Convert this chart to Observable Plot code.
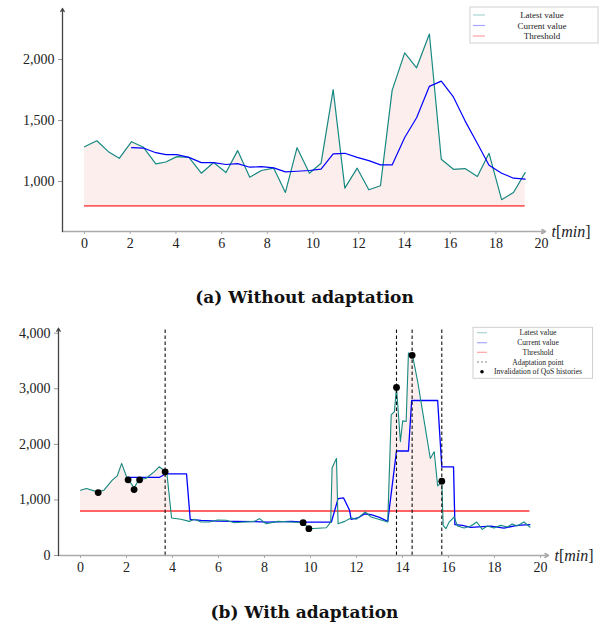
<!DOCTYPE html>
<html><head><meta charset="utf-8">
<script src="https://cdn.jsdelivr.net/npm/d3@7"></script>
<script src="https://cdn.jsdelivr.net/npm/@observablehq/plot@0.6"></script>
<style>
body{margin:0;background:#fff;}
#wrap{position:relative;width:603px;height:632px;background:#fff;}
#wrap svg{position:absolute;left:0;}
.cap{position:absolute;left:3px;width:603px;text-align:center;font-family:"DejaVu Serif",serif;font-weight:bold;font-size:17px;color:#111;line-height:20px;}
</style></head><body><div id="wrap"></div><script>
// ---------- data ----------
const threshold = 800;
const xTicks = [0, 2, 4, 6, 8, 10, 12, 14, 16, 18, 20];
const yTicksA = [1000, 1500, 2000];
const yTicksB = [0, 1000, 2000, 3000, 4000];
const axisLabel = "t[min]";
const legendA = ["Latest value", "Current value", "Threshold"];
const legendB = ["Latest value", "Current value", "Threshold", "Adaptation point", "Invalidation of QoS histories"];
const captionA = "(a) Without adaptation";
const captionB = "(b) With adaptation";

// (a) without adaptation
const timeA = [0,0.54,1.08,1.52,2.06,2.58,3.12,3.56,4.04,4.57,5.11,5.65,6.19,6.70,7.23,7.74,8.28,8.79,9.30,9.84,10.35,10.88,11.39,11.93,12.44,12.95,13.46,14.01,14.53,15.09,15.61,16.14,16.65,17.19,17.70,18.25,18.77,19.28];
const latestA = [1285,1334,1239,1190,1326,1280,1144,1160,1204,1198,1068,1155,1073,1253,1035,1090,1109,910,1277,1068,1149,1753,946,1109,932,965,1747,2054,1932,2209,1182,1100,1106,1041,1231,851,910,1073];
const currentTimeA = timeA.slice(4);
const currentA = [1277,1274,1236,1220,1220,1198,1155,1155,1139,1147,1117,1122,1111,1079,1084,1090,1101,1226,1231,1198,1171,1136,1136,1361,1522,1780,1823,1693,1497,1312,1133,1068,1027,1019];

// (b) with adaptation
const timeB = [0,0.26,0.73,1.02,1.38,1.6,1.79,2.0,2.33,2.55,2.84,3.2,3.42,3.64,3.75,3.96,4.36,4.73,4.95,5.24,5.6,5.96,6.33,6.69,7.13,7.56,7.78,8.07,8.58,9.16,9.68,9.93,10.69,10.88,10.94,11.13,11.2,11.49,11.7,11.8,11.99,12.2,12.38,12.64,12.96,13.36,13.51,13.65,13.74,13.91,14.01,14.16,14.26,14.43,14.66,15.21,15.38,15.53,15.64,15.71,15.77,15.89,16.03,16.25,16.39,16.68,16.97,17.23,17.47,17.69,17.98,18.27,18.56,18.77,18.99,19.28,19.54];
const latestB = [1175,1205,1145,1175,1355,1434,1657,1416,1217,1373,1386,1506,1596,1530,1506,675,651,614,651,602,602,639,633,590,602,614,663,572,614,602,590,482,500,602,1578,1747,572,614,663,675,651,723,783,693,651,602,2530,2590,3024,2048,2422,2410,3645,3614,3133,1747,1867,1253,1295,1337,542,482,602,693,530,494,530,602,470,530,494,542,512,566,530,602,512];
const currentTimeB = [2.04,3.42,3.71,4.61,4.77,5.24,5.96,6.69,7.56,8.15,9.18,9.68,10.91,11.2,11.44,11.7,11.77,12.06,12.35,12.64,13.0,13.36,13.74,14.26,14.4,15.53,15.71,16.22,16.28,16.61,16.97,17.84,18.41,18.99,19.54];
const currentB = [1404,1404,1470,1470,651,633,620,614,608,602,614,602,602,1024,1036,813,651,675,747,735,687,614,1880,1880,2789,2789,1596,1596,554,542,506,530,494,542,554];
const adaptationTimes = [3.68, 13.74, 14.42, 15.71];
const invalidTime = [0.77,2.07,2.33,2.57,3.68,9.68,9.93,13.74,14.42,15.71];
const invalidValue = [1133,1361,1187,1361,1506,590,482,3024,3602,1337];

// ---------- rows ----------
const rows = (ts, vs) => ts.map((t, i) => ({t, v: vs[i]}));
const A_latest = rows(timeA, latestA);
const A_current = rows(currentTimeA, currentA);
const B_latest = rows(timeB, latestB);
const B_current = rows(currentTimeB, currentB);
const B_invalid = rows(invalidTime, invalidValue);

const TEAL = "#168a82", BLUE = "#0000ff", FILL = "#fdeeee";
const font = "Liberation Serif";
const fmt = d3.format(",");

function axesMarks(xd, yd, yTicks) {
  return [
    Plot.axisY(yTicks, {tickFormat: fmt, tickSize: 4, tickPadding: 4, stroke: "#999", fill: "#222", fontSize: 14, label: null}),
    Plot.axisX(xTicks, {tickFormat: d => String(d), tickSize: 3, tickPadding: 4, stroke: "#aaa", fill: "#222", fontSize: 14, label: null}),
    Plot.arrow([0], {x1: xd[0], x2: xd[1], y1: yd[0], y2: yd[0], stroke: "#aaa", strokeWidth: 1.5, headLength: 4}),
    Plot.arrow([0], {x1: xd[0], x2: xd[0], y1: yd[0], y2: yd[1], stroke: "#444", strokeWidth: 1.3, headLength: 4}),
    Plot.text([axisLabel], {x: xd[1], y: yd[0], text: d => d, dx: 6, textAnchor: "start", fontSize: 16, fontStyle: "italic", fill: "#222"})
  ];
}

function fixFonts(svg) {
  const s = d3.select(svg);
  s.selectAll("g, text").style("font-family", font).style("font-variant", "normal");
  s.selectAll("text").filter(function() { return this.textContent === axisLabel; }).each(function() {
    const t = d3.select(this);
    t.text("");
    for (const part of axisLabel.match(/[a-z]+|[^a-z]+/g)) {
      t.append("tspan").style("font-style", /[a-z]/.test(part) ? "italic" : "normal").text(part);
    }
  });
}

function legend(svg, box, items, fontSize, rowYs, sampleX, textX) {
  const g = d3.select(svg).append("g").style("font-family", font).attr("font-size", fontSize);
  g.append("rect").attr("x", box[0]).attr("y", box[1]).attr("width", box[2]).attr("height", box[3])
    .attr("fill", "white").attr("stroke", "#d0d0d0").attr("stroke-width", 1);
  items.forEach((it, i) => {
    const y = rowYs[i];
    if (it.type === "dot") {
      g.append("circle").attr("cx", (sampleX[0] + sampleX[1]) / 2).attr("cy", y).attr("r", 1.8).attr("fill", "#000");
    } else {
      g.append("line").attr("x1", sampleX[0]).attr("x2", sampleX[1]).attr("y1", y).attr("y2", y)
        .attr("stroke", it.color).attr("stroke-width", 1.2).attr("stroke-dasharray", it.type === "dash" ? "2,2" : null);
    }
    g.append("text").attr("x", textX).attr("y", y).attr("dy", "0.35em").attr("text-anchor", "middle").attr("fill", "#222").text(it.label);
  });
}

const wrap = document.getElementById("wrap");

// ---------- chart (a) ----------
const xdA = [-0.963, 20.17], ydA = [590, 2418];
const svgA = Plot.plot({
  width: 603, height: 262,
  marginLeft: 62, marginRight: 58, marginTop: 8, marginBottom: 31,
  x: {domain: xdA, label: null}, y: {domain: ydA, label: null},
  style: {background: "transparent", overflow: "visible"},
  marks: [
    Plot.areaY(A_latest, {x: "t", y1: threshold, y2: "v", fill: FILL}),
    Plot.ruleY([threshold], {x1: timeA[0], x2: timeA[timeA.length - 1], stroke: "#ff5f5f", strokeWidth: 1.6}),
    Plot.line(A_latest, {x: "t", y: "v", stroke: TEAL, strokeWidth: 1.2}),
    Plot.line(A_current, {x: "t", y: "v", stroke: BLUE, strokeWidth: 1.2}),
    ...axesMarks(xdA, ydA, yTicksA)
  ]
});
svgA.style.top = "0px";
svgA.style.fontFamily = font;
wrap.appendChild(svgA);
fixFonts(svgA);
legend(svgA, [470, 7, 128, 36],
  [{label: legendA[0], color: "#a9d6d3"}, {label: legendA[1], color: "#a6a6ff"}, {label: legendA[2], color: "#ffa3a3"}],
  9, [15, 25.5, 36], [473, 485], 542);

const capA = document.createElement("div");
capA.className = "cap"; capA.style.top = "287px"; capA.textContent = captionA;
wrap.appendChild(capA);

// ---------- chart (b) ----------
const xdB = [-0.957, 20.35], ydB = [0, 4090];
const svgB = Plot.plot({
  width: 603, height: 274,
  marginLeft: 58, marginRight: 55, marginTop: 15.7, marginBottom: 31,
  x: {domain: xdB, label: null}, y: {domain: ydB, label: null},
  style: {background: "transparent", overflow: "visible"},
  marks: [
    Plot.areaY(B_latest, {x: "t", y1: threshold, y2: d => Math.max(d.v, threshold), fill: FILL}),
    Plot.ruleY([threshold], {x1: timeB[0], x2: timeB[timeB.length - 1], stroke: "#ff3030", strokeWidth: 1.4}),
    Plot.line(B_current, {x: "t", y: "v", stroke: BLUE, strokeWidth: 1.3}),
    Plot.line(B_latest, {x: "t", y: "v", stroke: TEAL, strokeWidth: 1.1}),
    Plot.ruleX(adaptationTimes, {y1: ydB[0], y2: ydB[1], stroke: "#111", strokeWidth: 1.1, strokeDasharray: "3.5,2.5"}),
    Plot.dot(B_invalid, {x: "t", y: "v", r: 3.4, fill: "#000"}),
    ...axesMarks(xdB, ydB, yTicksB)
  ]
});
svgB.style.top = "312px";
svgB.style.fontFamily = font;
wrap.appendChild(svgB);
fixFonts(svgB);
legend(svgB, [473, 15.3, 119.5, 51],
  [{label: legendB[0], color: "#a9d6d3"}, {label: legendB[1], color: "#a6a6ff"}, {label: legendB[2], color: "#ffa3a3"},
   {label: legendB[3], color: "#888", type: "dash"}, {label: legendB[4], type: "dot"}],
  7.6, [20.7, 30.7, 40.3, 50, 59.7], [477, 487], 538);

const capB = document.createElement("div");
capB.className = "cap"; capB.style.top = "602px"; capB.textContent = captionB;
wrap.appendChild(capB);
</script></body></html>
